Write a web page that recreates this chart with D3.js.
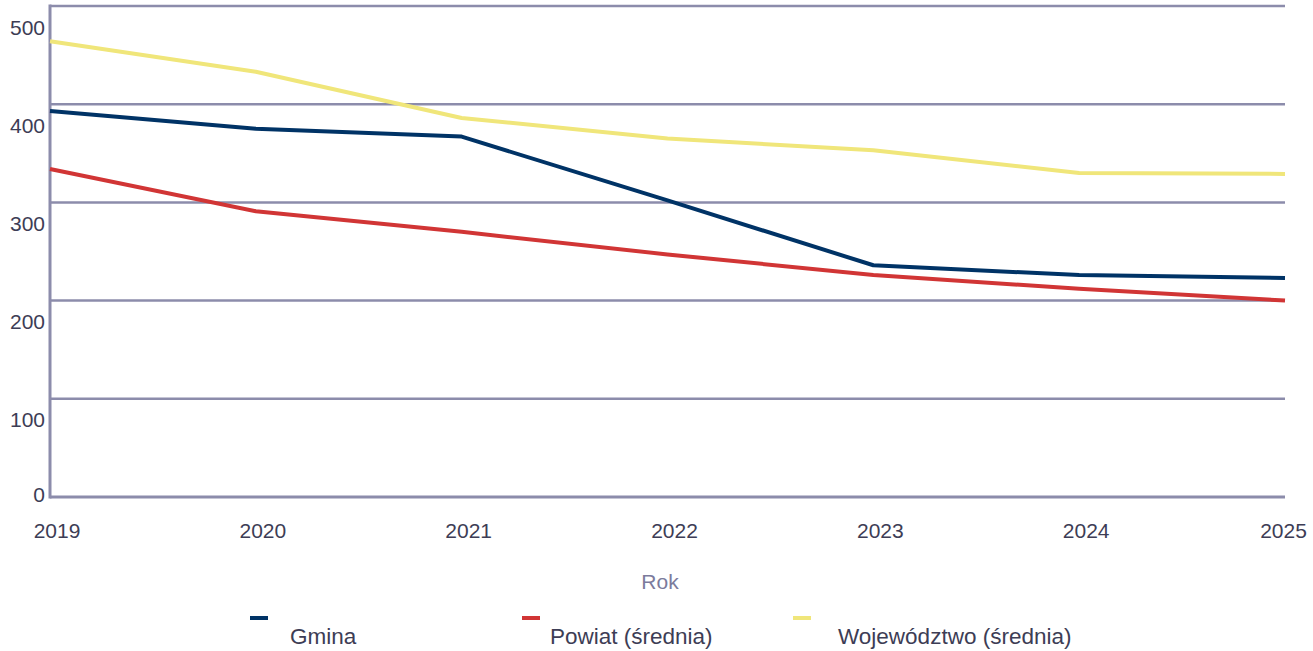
<!DOCTYPE html>
<html><head><meta charset="utf-8">
<script src="https://cdn.jsdelivr.net/npm/d3@7"></script>
<style>
html,body{margin:0;padding:0;background:#fff;}
svg{display:block;font-family:"Liberation Sans",Arial,sans-serif;}
</style></head>
<body><svg id="c" width="1313" height="651"></svg>
<script>
const years = [2019, 2020, 2021, 2022, 2023, 2024, 2025];
const yTicks = [0, 100, 200, 300, 400, 500];
const seriesNames = ["Gmina", "Powiat (średnia)", "Województwo (średnia)"];
const seriesColors = ["#003366", "#d13535", "#f0e67a"];
const gmina = [393, 375, 367, 302, 236, 226, 223];
const powiat = [334, 291, 270, 247, 226, 212, 200];
const wojewodztwo = [464, 433, 386, 365, 353, 330, 329];
const axisTitle = "Rok";

const values = [gmina, powiat, wojewodztwo];
const svg = d3.select("#c");
const L = 50, R = 1285, T = 6, B = 497;
const x = d3.scalePoint().domain(years).range([L, R]);
const y = d3.scaleLinear().domain([0, 500]).range([B, T]);
const gridColor = "#8c8cab", textColor = "#3d3d55";

// gridlines
svg.append("g").selectAll("line").data(yTicks.filter(d => d > 0)).join("line")
  .attr("x1", L).attr("x2", R).attr("y1", d => y(d)).attr("y2", d => y(d))
  .attr("stroke", gridColor).attr("stroke-width", 2.5);
// axes lines
svg.append("line").attr("x1", L).attr("x2", R).attr("y1", B).attr("y2", B)
  .attr("stroke", gridColor).attr("stroke-width", 3);
svg.append("line").attr("x1", L).attr("x2", L).attr("y1", T - 1.5).attr("y2", B + 1.5)
  .attr("stroke", gridColor).attr("stroke-width", 3);

// y labels
svg.append("g").selectAll("text").data(yTicks).join("text")
  .attr("x", 45).attr("y", d => Math.min(y(d) + 21, B - 3))
  .attr("text-anchor", "end").attr("dominant-baseline", "central")
  .attr("font-size", 21).attr("fill", textColor).text(d => d);

// x labels
svg.append("g").selectAll("text").data(years).join("text")
  .attr("x", d => Math.min(x(d) + 7, 1308 - 24.5))
  .attr("y", 538).attr("text-anchor", "middle")
  .attr("font-size", 21).attr("fill", textColor).text(d => d);

// axis title
svg.append("text").attr("x", 660).attr("y", 589).attr("text-anchor", "middle")
  .attr("font-size", 21).attr("fill", "#7b7b9c").text(axisTitle);

// lines
const line = d3.line().x((d, i) => x(years[i])).y(d => y(d));
values.forEach((v, k) => {
  svg.append("path").datum(v).attr("d", line).attr("fill", "none")
    .attr("stroke", seriesColors[k]).attr("stroke-width", 4)
    .attr("stroke-linejoin", "round");
});

// legend
const swatchX = [250, 522, 793];
const textX = [290, 550, 838];
seriesNames.forEach((n, k) => {
  svg.append("line").attr("x1", swatchX[k]).attr("x2", swatchX[k] + 18)
    .attr("y1", 618).attr("y2", 618).attr("stroke", seriesColors[k]).attr("stroke-width", 4);
  svg.append("text").attr("x", textX[k]).attr("y", 644).attr("font-size", 22.5)
    .attr("fill", textColor).text(n);
});
</script></body></html>
